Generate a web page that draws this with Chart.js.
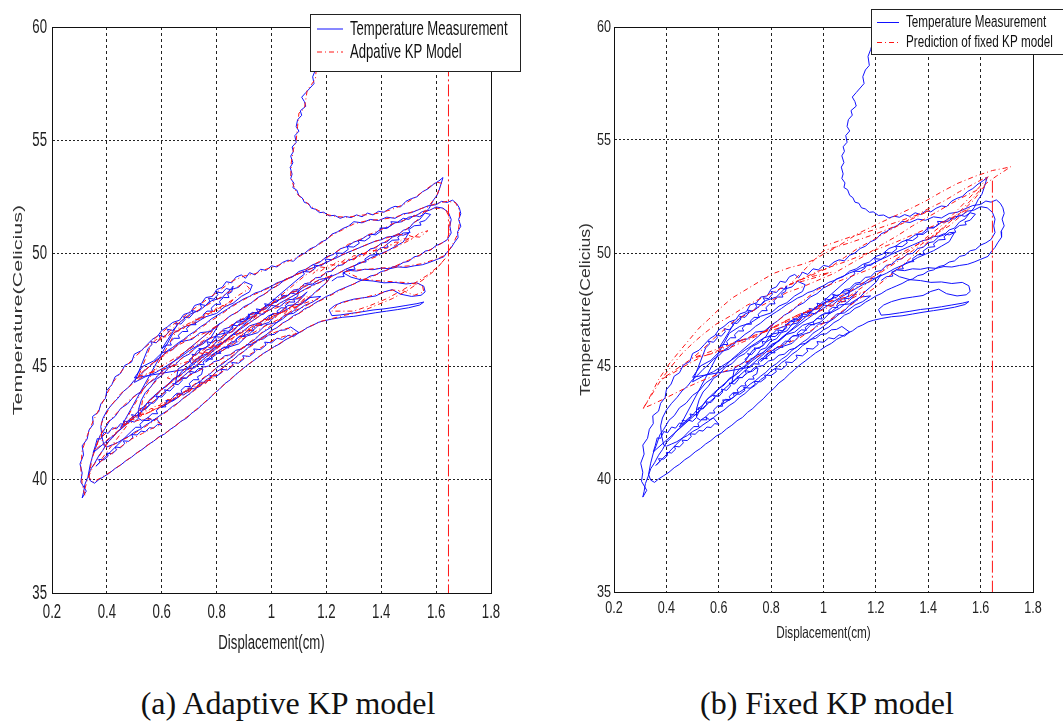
<!DOCTYPE html>
<html>
<head>
<meta charset="utf-8">
<title>Temperature vs displacement</title>
<script src="https://cdn.jsdelivr.net/npm/chart.js@4.4.1/dist/chart.umd.min.js"></script>
<style>
  body { margin: 0; background: #fff; }
  #page { position: relative; width: 1063px; height: 721px; overflow: hidden; background: #fff; }
  canvas { position: absolute; top: 0; }
  #chartA { left: 0; }
  #chartB { left: 530px; }
  .caption {
    position: absolute; top: 685px; line-height: 36px;
    font-family: 'Liberation Serif', 'Times New Roman', serif; font-size: 32px;
    color: #111; white-space: nowrap; transform: translateX(-50%);
  }
</style>
</head>
<body>
<div id="page">
  <canvas id="chartA" width="530" height="660"></canvas>
  <canvas id="chartB" width="533" height="660"></canvas>
  <div class="caption" style="left:288px">(a) Adaptive KP model</div>
  <div class="caption" style="left:827px">(b) Fixed KP model</div>
</div>
<script>
// Axis ticks
const xTickValues = [0.2, 0.4, 0.6, 0.8, 1.0, 1.2, 1.4, 1.6, 1.8];
const xTickLabels = ['0.2', '0.4', '0.6', '0.8', '1', '1.2', '1.4', '1.6', '1.8'];
const yTickValues = [35, 40, 45, 50, 55, 60];
const yTickLabels = ['35', '40', '45', '50', '55', '60'];

// Measured temperature vs displacement, [cm, degC]
const measured = [
  // cooling hook from the top
  [1.195,59.6],[1.185,59.2],[1.18,59.0],[1.17,58.7],[1.175,58.3],[1.16,58.1],[1.15,57.8],[1.155,57.5],[1.14,57.3],[1.125,57.1],
  [1.11,56.9],[1.12,56.7],[1.125,56.5],[1.105,56.3],[1.11,56.1],[1.095,55.9],[1.09,55.6],[1.1,55.4],[1.085,55.2],[1.09,54.9],
  [1.075,54.7],[1.08,54.5],[1.07,54.3],[1.078,54.0],[1.068,53.8],[1.075,53.5],[1.07,53.3],[1.082,53.1],[1.078,52.9],[1.092,52.8],
  [1.1,52.55],[1.112,52.45],[1.12,52.25],[1.135,52.2],[1.145,52.0],[1.16,51.95],[1.175,51.8],[1.19,51.82],[1.21,51.66],[1.23,51.68],
  [1.25,51.55],[1.27,51.63],[1.29,51.58],[1.31,51.7],[1.33,51.62],[1.35,51.78],[1.37,51.7],[1.39,51.86],[1.41,51.82],[1.43,51.98],
  [1.45,52.08],[1.47,52.05],[1.49,52.3],[1.51,52.42],[1.53,52.5],[1.55,52.72],[1.57,52.85],[1.59,53.05],[1.61,53.2],[1.625,53.35],
  // outer loop, falling branch
  [1.615,52.95],[1.605,52.6],[1.59,52.35],[1.575,52.0],[1.56,51.8],[1.54,51.5],[1.52,51.38],[1.5,51.1],[1.48,51.02],[1.46,50.8],
  [1.44,50.72],[1.42,50.5],[1.4,50.45],[1.38,50.25],[1.36,50.2],[1.34,49.98],[1.32,49.95],[1.3,49.75],[1.28,49.7],[1.26,49.5],
  [1.24,49.45],[1.22,49.22],[1.2,49.18],[1.18,48.95],[1.16,48.92],[1.14,48.7],[1.12,48.66],[1.1,48.42],[1.08,48.38],[1.06,48.15],
  [1.04,48.1],[1.02,47.85],[1.0,47.8],[0.98,47.55],[0.96,47.5],[0.94,47.22],[0.92,47.18],[0.9,46.9],[0.88,46.85],[0.86,46.55],
  [0.84,46.48],[0.82,46.2],[0.8,46.12],[0.78,45.8],[0.76,45.72],[0.74,45.4],[0.72,45.3],[0.7,45.0],[0.68,44.88],[0.66,44.58],
  [0.64,44.45],[0.62,44.15],[0.6,44.0],[0.58,43.72],[0.56,43.58],[0.54,43.28],[0.52,43.1],[0.5,42.82],[0.48,42.65],[0.46,42.35],
  [0.44,42.15],[0.42,41.85],[0.4,41.62],[0.385,41.3],[0.37,41.05],[0.355,40.72],[0.34,40.45],[0.33,40.1],[0.32,39.8],[0.315,39.45],[0.31,39.2],
  // outer loop, rising branch
  [0.325,39.5],[0.305,39.9],[0.31,40.3],[0.302,40.7],[0.315,41.1],[0.31,41.5],[0.328,41.8],[0.335,42.2],[0.35,42.45],[0.348,42.8],
  [0.37,43.0],[0.378,43.35],[0.395,43.6],[0.4,43.95],[0.418,44.2],[0.43,44.55],[0.45,44.7],[0.465,45.05],[0.49,45.2],[0.5,45.55],
  [0.525,45.7],[0.545,45.95],[0.565,46.2],[0.585,46.35],[0.6,46.6],[0.62,46.75],[0.64,46.95],[0.665,47.05],[0.68,47.3],[0.705,47.4],
  [0.72,47.7],[0.745,47.8],[0.76,48.05],[0.785,48.1],[0.8,48.4],[0.82,48.5],[0.835,48.75],[0.855,48.7],[0.87,48.95],[0.89,49.05],
  [0.905,48.9],[0.92,49.15],[0.94,49.05],[0.96,49.3],[0.98,49.25],[1.0,49.45],[1.02,49.4],[1.04,49.6],[1.06,49.7],[1.08,49.65],
  [1.1,49.9],[1.12,50.0],[1.14,50.2],[1.16,50.3],[1.18,50.5],[1.2,50.6],[1.22,50.85],[1.24,50.95],[1.26,51.1],[1.28,51.2],
  [1.3,51.4],[1.33,51.35],[1.36,51.5],[1.39,51.45],[1.42,51.6],[1.45,51.55],[1.48,51.75],[1.51,51.8],[1.54,51.95],[1.57,52.1],
  [1.6,52.15],[1.62,52.3],[1.64,52.25],[1.66,52.35],[1.675,52.2],[1.685,52.0],[1.69,51.75],[1.682,51.5],[1.69,51.2],[1.678,50.95],
  [1.68,50.7],[1.665,50.45],[1.655,50.25],[1.64,50.05],[1.628,49.85],
  // lower lobe and lower envelope
  [1.6,49.72],[1.575,49.6],[1.55,49.5],[1.52,49.45],[1.49,49.38],[1.46,49.4],[1.43,49.32],[1.4,49.35],[1.37,49.28],[1.34,49.3],
  [1.31,49.22],[1.28,49.25],[1.26,49.15],[1.29,48.95],[1.33,48.82],[1.37,48.78],[1.41,48.7],[1.45,48.72],[1.49,48.65],[1.53,48.7],
  [1.555,48.55],[1.56,48.3],[1.545,48.15],[1.51,48.1],[1.47,48.2],[1.44,48.4],[1.41,48.3],[1.38,48.12],[1.34,48.05],[1.3,47.98],
  [1.26,47.85],[1.23,47.7],[1.21,47.5],[1.22,47.25],[1.25,47.28],[1.29,47.35],[1.33,47.42],[1.37,47.5],[1.41,47.55],[1.45,47.62],
  [1.49,47.7],[1.53,47.78],[1.555,47.85],[1.54,47.72],[1.5,47.6],[1.46,47.52],[1.42,47.45],[1.38,47.38],[1.34,47.3],[1.3,47.22],
  [1.26,47.18],[1.22,47.1],[1.19,47.02],[1.17,46.95],[1.15,46.82],[1.13,46.72],[1.11,46.55],[1.09,46.45],[1.07,46.3],[1.05,46.18],
  [1.03,46.0],[1.01,45.88],[0.99,45.72],[0.97,45.58],[0.95,45.4],[0.93,45.22],[0.91,45.05],[0.89,44.85],[0.87,44.65],[0.85,44.42],
  [0.83,44.25],[0.81,44.0],[0.79,43.8],[0.77,43.55],[0.75,43.35],[0.73,43.12],[0.71,42.95],[0.69,42.72],[0.67,42.58],[0.65,42.38],
  [0.63,42.22],[0.61,42.02],[0.59,41.9],[0.57,41.7],[0.55,41.55],[0.53,41.35],[0.51,41.2],[0.49,41.0],[0.47,40.85],[0.45,40.65],
  [0.43,40.5],[0.41,40.3],[0.39,40.15],[0.37,40.0],[0.355,39.85],[0.34,39.95],[0.332,40.2],
  // second loop
  [0.34,40.7],[0.35,41.15],[0.362,41.5],[0.375,41.95],[0.39,42.2],[0.41,42.6],[0.43,42.8],[0.45,43.15],[0.475,43.35],[0.5,43.7],
  [0.525,43.9],[0.55,44.25],[0.575,44.45],[0.6,44.8],[0.625,45.0],[0.65,45.3],[0.675,45.55],[0.7,45.8],[0.725,46.05],[0.75,46.3],
  [0.775,46.55],[0.8,46.8],[0.825,47.0],[0.85,47.25],[0.875,47.4],[0.9,47.65],[0.925,47.8],[0.95,48.05],[0.975,48.2],[1.0,48.45],
  [1.025,48.6],[1.05,48.85],[1.075,48.95],[1.1,49.2],[1.125,49.3],[1.15,49.5],[1.175,49.6],[1.2,49.85],[1.225,49.95],[1.25,50.2],
  [1.275,50.3],[1.3,50.5],[1.325,50.6],[1.35,50.8],[1.375,50.85],[1.4,51.1],[1.425,51.15],[1.45,51.35],[1.475,51.4],[1.5,51.6],
  [1.525,51.65],[1.55,51.85],[1.575,51.9],[1.6,52.05],[1.625,52.0],[1.645,51.8],[1.655,51.5],[1.65,51.2],[1.655,50.9],[1.64,50.6],
  [1.62,50.45],[1.6,50.35],[1.58,50.15],[1.56,50.1],[1.54,49.9],[1.52,49.85],[1.5,49.65],[1.48,49.6],[1.46,49.45],[1.44,49.4],
  [1.42,49.25],[1.4,49.2],[1.38,49.05],[1.36,49.0],[1.34,48.85],[1.32,48.78],[1.3,48.65],[1.28,48.55],[1.26,48.45],[1.24,48.35],
  [1.22,48.2],[1.2,48.1],[1.18,47.95],[1.16,47.82],[1.14,47.65],[1.12,47.55],[1.1,47.35],[1.08,47.25],[1.06,47.05],[1.04,46.92],
  [1.02,46.72],[1.0,46.6],[0.98,46.4],[0.96,46.25],[0.94,46.05],[0.92,45.9],[0.9,45.68],[0.88,45.52],[0.86,45.3],[0.84,45.15],
  [0.82,44.92],[0.8,44.78],[0.78,44.55],[0.76,44.4],[0.74,44.15],[0.72,44.0],[0.7,43.78],[0.68,43.62],[0.66,43.4],[0.64,43.25],
  [0.62,43.05],[0.6,42.9],[0.58,42.72],[0.56,42.55],[0.54,42.4],[0.52,42.22],[0.5,42.1],[0.48,41.92],[0.46,41.8],[0.44,41.65],
  [0.42,41.55],[0.4,41.45],[0.39,41.5],[0.382,41.9],[0.378,42.35],[0.385,42.7],
  // third loop
  [0.4,43.05],[0.42,43.35],[0.44,43.6],[0.46,43.9],[0.48,44.1],[0.5,44.4],[0.52,44.6],[0.54,44.85],[0.56,45.05],[0.58,45.3],
  [0.6,45.45],[0.62,45.7],[0.64,45.85],[0.66,46.05],[0.68,46.2],[0.7,46.4],[0.72,46.55],[0.74,46.75],[0.76,46.9],[0.78,47.1],
  [0.8,47.25],[0.82,47.4],[0.84,47.55],[0.86,47.72],[0.88,47.85],[0.9,48.0],[0.92,48.1],[0.94,48.25],[0.96,48.32],[0.98,48.45],
  [1.0,48.55],[1.02,48.7],[1.04,48.78],[1.06,48.9],[1.08,49.0],[1.1,49.12],[1.12,49.2],[1.14,49.32],[1.16,49.4],[1.18,49.5],
  [1.2,49.6],[1.22,49.72],[1.24,49.82],[1.26,49.95],[1.28,50.05],[1.3,50.15],[1.32,50.25],[1.34,50.35],[1.36,50.45],[1.38,50.55],
  [1.4,50.6],[1.42,50.72],[1.44,50.75],[1.46,50.85],[1.48,50.8],[1.5,50.9],
  [1.48,50.5],[1.45,50.3],[1.42,50.1],[1.39,49.95],[1.36,49.8],[1.33,49.6],[1.3,49.45],[1.27,49.3],[1.24,49.1],[1.21,48.95],
  [1.18,48.75],[1.15,48.6],[1.12,48.4],[1.09,48.2],[1.06,48.0],[1.03,47.8],[1.0,47.55],[0.97,47.35],[0.94,47.1],[0.91,46.85],
  [0.88,46.6],[0.85,46.35],[0.82,46.05],[0.79,45.8],[0.76,45.5],[0.73,45.25],[0.7,44.95],[0.67,44.65],[0.64,44.4],[0.61,44.1],
  [0.58,43.8],[0.55,43.45],[0.53,43.1],[0.515,42.75],
  // fourth loop
  [0.515,43.1],[0.525,43.5],[0.54,43.85],[0.56,44.1],[0.58,44.45],[0.6,44.6],[0.625,44.95],[0.65,45.1],[0.675,45.4],[0.7,45.55],
  [0.725,45.85],[0.75,46.0],[0.775,46.25],[0.8,46.35],[0.825,46.65],[0.85,46.75],[0.875,47.0],[0.9,47.1],[0.925,47.35],[0.95,47.4],
  [0.975,47.65],[1.0,47.75],[1.025,47.95],[1.05,48.05],[1.075,48.3],[1.1,48.35],[1.125,48.6],[1.15,48.65],[1.175,48.85],[1.2,48.9],[1.22,49.05],
  [1.2,48.7],[1.18,48.5],[1.16,48.3],[1.14,48.05],[1.12,47.85],[1.1,47.7],[1.08,47.45],[1.06,47.3],[1.04,47.1],[1.02,46.95],
  [1.0,46.75],[0.98,46.6],[0.96,46.45],[0.94,46.2],[0.92,46.05],[0.9,45.85],[0.88,45.7],[0.86,45.45],[0.84,45.3],[0.82,45.1],
  [0.8,44.95],[0.78,44.72],[0.76,44.55],[0.74,44.35],[0.72,44.2],[0.7,44.0],[0.68,43.85],[0.66,43.65],[0.64,43.5],[0.62,43.35],[0.6,43.2],
  // lower middle drift
  [0.62,43.38],[0.615,43.5],[0.64,43.48],[0.66,43.65],[0.655,43.78],[0.68,43.75],[0.7,43.92],[0.695,44.05],[0.72,44.02],[0.74,44.2],
  [0.735,44.32],[0.76,44.3],[0.78,44.48],[0.775,44.6],[0.8,44.58],[0.82,44.75],[0.815,44.88],[0.84,44.85],[0.86,45.05],[0.855,45.18],
  [0.88,45.15],[0.9,45.35],[0.895,45.48],[0.92,45.45],[0.94,45.65],[0.935,45.78],[0.96,45.75],[0.98,45.95],[0.975,46.08],[1.0,46.05],
  [1.02,46.25],[1.04,46.2],[1.06,46.38],[1.08,46.32],[1.1,46.5],[1.07,46.75],[1.05,46.62],[1.03,46.6],[1.01,46.42],[0.99,46.4],
  [0.97,46.22],[0.95,46.18],[0.93,46.0],[0.91,45.95],[0.89,45.78],[0.87,45.72],[0.85,45.52],[0.83,45.48],[0.81,45.28],[0.79,45.22],
  [0.77,45.02],[0.75,44.98],[0.73,44.78],[0.71,44.7],[0.69,44.5],[0.67,44.45],[0.65,44.25],
  // dense middle
  [0.66,44.9],[0.7,45.2],[0.73,45.7],[0.77,45.9],[0.8,46.4],[0.84,46.5],[0.87,46.95],[0.9,47.0],[0.93,47.4],
  [0.97,47.3],[1.0,47.7],[1.03,47.65],[1.06,47.95],[1.1,48.0],[1.13,48.3],[1.1,47.9],[1.06,47.55],[1.02,47.3],[0.99,46.95],
  [0.95,46.8],[0.92,46.45],[0.88,46.3],[0.85,45.95],[0.82,45.8],[0.78,45.5],[0.76,45.2],[0.8,45.55],[0.84,45.85],[0.88,46.0],
  [0.91,46.35],[0.95,46.5],[0.98,46.85],[1.02,46.95],[1.05,47.3],[1.08,47.35],[1.12,47.7],[1.15,47.85],[1.18,48.1],[1.14,48.05],
  [1.1,47.75],[1.06,47.7],[1.03,47.4],[0.99,47.25],[0.96,46.95],[0.92,46.8],[0.89,46.5],[0.86,46.4],[0.83,46.1],[0.8,45.95],
  [0.77,45.6],[0.74,45.45],[0.71,45.1],[0.7,45.3],
  [0.715,45.45],[0.71,45.55],[0.725,45.5],[0.74,45.7],[0.735,45.8],[0.755,45.78],[0.77,45.95],[0.765,46.1],[0.78,46.05],[0.8,46.2],
  [0.795,46.32],[0.815,46.3],[0.83,46.45],[0.825,46.6],[0.845,46.55],[0.86,46.7],[0.855,46.85],[0.875,46.8],[0.89,46.95],[0.885,47.1],
  [0.905,47.05],[0.92,47.2],[0.915,47.32],[0.935,47.28],[0.95,47.42],[0.945,47.55],[0.965,47.5],[0.98,47.65],[0.975,47.78],[0.995,47.72],
  [1.01,47.85],[1.005,47.98],[1.025,47.92],[1.04,48.05],[1.035,48.18],[1.055,48.1],[1.07,48.25],[1.09,48.2],[1.1,48.35],
  [1.095,48.1],[1.08,48.0],[1.085,47.85],[1.065,47.85],[1.05,47.7],[1.055,47.58],[1.035,47.6],[1.02,47.45],[1.025,47.32],[1.005,47.35],
  [0.99,47.2],[0.995,47.08],[0.975,47.1],[0.96,46.95],[0.965,46.82],[0.945,46.85],[0.93,46.7],[0.935,46.58],[0.915,46.6],[0.9,46.45],
  [0.905,46.32],[0.885,46.35],[0.87,46.2],[0.875,46.08],[0.855,46.1],[0.84,45.95],[0.845,45.82],[0.825,45.85],[0.81,45.7],[0.815,45.58],
  [0.795,45.6],[0.78,45.45],[0.785,45.32],[0.765,45.35],[0.75,45.2],[0.755,45.08],[0.735,45.1],[0.72,44.95],
  [0.5,44.5],[0.53,45.0],[0.57,45.25],[0.6,45.6],[0.64,45.75],[0.67,46.1],[0.71,46.2],[0.74,46.5],[0.78,46.55],[0.81,46.9],
  [0.78,46.3],[0.74,46.0],[0.7,45.7],[0.66,45.35],[0.62,45.05],[0.58,44.75],[0.54,44.55],[0.5,44.3],
  // upper band curls
  [0.55,45.8],[0.565,45.98],[0.56,46.1],[0.58,46.05],[0.595,46.25],[0.59,46.38],[0.61,46.32],[0.625,46.52],[0.62,46.65],[0.64,46.6],
  [0.655,46.8],[0.65,46.92],[0.67,46.88],[0.685,47.08],[0.68,47.2],[0.7,47.15],[0.715,47.35],[0.71,47.48],[0.73,47.42],[0.745,47.62],
  [0.74,47.75],[0.76,47.7],[0.775,47.9],[0.77,48.02],[0.79,47.98],[0.805,48.18],[0.8,48.3],[0.82,48.25],[0.835,48.45],[0.85,48.4],[0.86,48.55],
  [0.855,48.3],[0.84,48.2],[0.845,48.05],[0.825,48.05],[0.81,47.88],[0.815,47.75],[0.795,47.75],[0.78,47.58],[0.785,47.45],[0.765,47.45],
  [0.75,47.28],[0.755,47.15],[0.735,47.15],[0.72,46.98],[0.725,46.85],[0.705,46.85],[0.69,46.68],[0.695,46.55],[0.675,46.55],[0.66,46.38],
  [0.665,46.25],[0.645,46.25],[0.63,46.08],[0.635,45.95],[0.615,45.95],[0.6,45.78],
  [0.66,46.9],[0.7,47.3],[0.74,47.5],[0.78,47.9],[0.82,48.05],[0.85,48.4],[0.88,48.5],[0.9,48.75],[0.93,48.6],[0.92,48.3],
  [0.89,48.1],[0.86,47.8],[0.83,47.65],[0.8,47.35],[0.76,47.2],[0.72,46.9],[0.68,46.75],[0.64,46.45],
  // lower band curls
  [0.45,42.3],[0.465,42.48],[0.46,42.6],[0.48,42.55],[0.495,42.75],[0.49,42.88],[0.51,42.82],[0.525,43.02],[0.52,43.15],[0.54,43.1],
  [0.555,43.3],[0.55,43.42],[0.57,43.38],[0.585,43.58],[0.58,43.7],[0.6,43.65],[0.615,43.85],[0.61,43.98],[0.63,43.92],[0.645,44.12],
  [0.64,44.25],[0.66,44.2],[0.675,44.4],[0.67,44.52],[0.69,44.48],[0.705,44.68],[0.7,44.8],[0.72,44.75],[0.735,44.92],[0.75,44.9],
  [0.745,44.65],[0.73,44.55],[0.735,44.42],[0.715,44.42],[0.7,44.25],[0.705,44.12],[0.685,44.12],[0.67,43.95],[0.675,43.82],[0.655,43.82],
  [0.64,43.65],[0.645,43.52],[0.625,43.52],[0.61,43.35],[0.615,43.22],[0.595,43.22],[0.58,43.05],[0.585,42.92],[0.565,42.92],[0.55,42.75],
  [0.555,42.62],[0.535,42.62],[0.52,42.45],[0.525,42.32],[0.505,42.32],[0.49,42.15],
  [0.36,40.6],[0.375,40.78],[0.37,40.9],[0.39,40.88],[0.405,41.05],[0.4,41.18],[0.42,41.15],[0.435,41.32],[0.43,41.45],[0.45,41.42],
  [0.465,41.6],[0.46,41.72],[0.48,41.7],[0.495,41.88],[0.49,42.0],[0.51,41.98],[0.525,42.15],[0.54,42.12],[0.555,42.3],[0.57,42.28],
  [0.585,42.45],[0.6,42.42],[0.58,42.7],[0.565,42.62],[0.55,42.75],[0.53,42.6],[0.515,42.72],[0.5,42.55],[0.48,42.62],[0.465,42.42],
  [0.45,42.48],[0.435,42.25],[0.42,42.3],[0.405,42.05],[0.39,42.1],[0.378,41.8],[0.365,41.82],[0.358,41.5],[0.35,41.2],
  // upper right curls
  [1.1,48.9],[1.12,49.08],[1.115,49.2],[1.14,49.18],[1.16,49.35],[1.155,49.48],[1.18,49.45],[1.2,49.62],[1.195,49.75],[1.22,49.72],
  [1.24,49.9],[1.235,50.02],[1.26,50.0],[1.28,50.18],[1.275,50.3],[1.3,50.28],[1.32,50.45],[1.315,50.58],[1.34,50.55],[1.36,50.72],
  [1.355,50.85],[1.38,50.82],[1.4,51.0],[1.395,51.12],[1.42,51.1],[1.44,51.28],[1.435,51.4],[1.46,51.38],[1.48,51.55],[1.5,51.5],
  [1.52,51.68],[1.54,51.62],[1.56,51.78],[1.58,51.72],
  [1.56,51.45],[1.54,51.38],[1.545,51.25],[1.52,51.22],[1.5,51.05],[1.505,50.92],[1.48,50.9],[1.46,50.72],[1.465,50.6],[1.44,50.58],
  [1.42,50.4],[1.425,50.28],[1.4,50.25],[1.38,50.08],[1.385,49.95],[1.36,49.92],[1.34,49.75],[1.345,49.62],[1.32,49.6],[1.3,49.42],
  [1.305,49.3],[1.28,49.28],[1.26,49.1],[1.265,48.98],[1.24,48.95],[1.22,48.78]
];

// Adaptive KP model output
const adaptiveKP = [
  [1.2,60.2],[1.18,58.9],[1.165,58.4],[1.16,57.7],[1.13,57.2],[1.12,56.4],[1.1,56.2],[1.095,55.6],[1.09,55.0],[1.08,54.6],
  [1.072,54.0],[1.07,53.4],[1.08,53.0],[1.095,52.6],[1.12,52.35],[1.14,52.1],[1.17,51.9],[1.2,51.72],[1.24,51.62],[1.28,51.6],
  [1.32,51.68],[1.36,51.72],[1.4,51.8],[1.44,51.95],[1.48,52.15],[1.52,52.45],[1.56,52.8],[1.6,53.15],[1.62,53.1],
  [1.6,52.5],[1.57,52.05],[1.53,51.45],[1.49,51.05],[1.45,50.78],[1.41,50.48],[1.37,50.22],[1.33,49.95],[1.29,49.72],[1.25,49.48],
  [1.21,49.2],[1.17,48.95],[1.13,48.68],[1.09,48.4],[1.05,48.12],[1.01,47.82],[0.97,47.52],[0.93,47.2],[0.89,46.88],[0.85,46.5],
  [0.81,46.18],[0.77,45.78],[0.73,45.35],[0.69,44.95],[0.65,44.52],[0.61,44.08],[0.57,43.66],[0.53,43.2],[0.49,42.75],[0.45,42.25],
  [0.41,41.75],[0.38,41.2],[0.35,40.6],[0.33,40.05],[0.32,39.6],[0.32,39.3],
  [0.31,39.8],[0.305,40.5],[0.31,41.3],[0.33,42.0],[0.35,42.6],[0.375,43.2],[0.4,43.8],[0.425,44.35],[0.46,44.9],[0.5,45.4],
  [0.54,45.85],[0.58,46.3],[0.62,46.7],[0.66,47.0],[0.7,47.4],[0.74,47.75],[0.78,48.1],[0.82,48.45],[0.86,48.8],[0.9,49.0],
  [0.94,49.1],[0.98,49.3],[1.02,49.45],[1.06,49.65],[1.1,49.85],[1.14,50.15],[1.18,50.45],[1.22,50.8],[1.26,51.05],[1.3,51.3],
  [1.35,51.45],[1.4,51.5],[1.45,51.6],[1.5,51.78],[1.55,52.0],[1.6,52.2],[1.64,52.3],[1.67,52.25],[1.685,51.9],[1.685,51.4],
  [1.68,50.9],[1.665,50.5],[1.645,50.1],[1.63,49.9],
  [1.6,49.75],[1.55,49.55],[1.5,49.45],[1.45,49.4],[1.4,49.35],[1.35,49.3],[1.3,49.25],[1.27,49.2],[1.32,48.9],[1.38,48.8],
  [1.44,48.75],[1.5,48.7],[1.55,48.6],[1.555,48.3],[1.52,48.15],[1.48,48.35],[1.44,48.38],[1.4,48.25],[1.34,48.05],[1.28,47.9],
  [1.24,47.75],[1.22,47.45],[1.3,47.45],[1.36,47.7],[1.42,48.0],[1.48,48.4],[1.53,48.75],[1.57,49.05],[1.61,49.45],[1.635,49.8],
  [1.6,49.3],[1.56,48.9],[1.5,48.4],[1.44,48.0],[1.38,47.7],[1.32,47.4],[1.26,47.25],[1.22,47.12],
  [1.18,47.0],[1.14,46.78],[1.1,46.5],[1.06,46.25],[1.02,45.95],[0.98,45.65],[0.94,45.32],[0.9,44.95],[0.86,44.55],[0.82,44.12],
  [0.78,43.68],[0.74,43.25],[0.7,42.85],[0.66,42.48],[0.62,42.12],[0.58,41.8],[0.54,41.45],[0.5,41.1],[0.46,40.75],[0.42,40.4],
  [0.38,40.1],[0.35,39.9],[0.335,40.1],
  [0.345,40.9],[0.37,41.8],[0.4,42.5],[0.44,43.0],[0.48,43.5],[0.52,43.85],[0.56,44.35],[0.6,44.75],[0.64,45.2],[0.68,45.6],
  [0.72,46.0],[0.76,46.4],[0.8,46.75],[0.84,47.15],[0.88,47.45],[0.92,47.75],[0.96,48.1],[1.0,48.4],[1.04,48.75],[1.08,49.0],
  [1.12,49.25],[1.16,49.55],[1.2,49.8],[1.24,50.1],[1.28,50.4],[1.32,50.6],[1.36,50.85],[1.4,51.05],[1.44,51.3],[1.48,51.45],
  [1.52,51.65],[1.56,51.85],[1.6,52.0],[1.635,51.95],[1.65,51.5],[1.65,51.0],[1.64,50.6],
  [1.6,50.3],[1.56,50.05],[1.52,49.8],[1.48,49.6],[1.44,49.38],[1.4,49.15],[1.36,48.95],[1.32,48.75],[1.28,48.55],[1.24,48.3],
  [1.2,48.05],[1.16,47.8],[1.12,47.5],[1.08,47.2],[1.04,46.9],[1.0,46.55],[0.96,46.2],[0.92,45.85],[0.88,45.5],[0.84,45.1],
  [0.8,44.75],[0.76,44.35],[0.72,43.95],[0.68,43.6],[0.64,43.2],[0.6,42.85],[0.56,42.5],[0.52,42.2],[0.48,41.9],[0.44,41.65],
  [0.4,41.4],[0.38,41.8],[0.38,42.5],
  [0.41,43.2],[0.45,43.8],[0.49,44.2],[0.53,44.75],[0.57,45.15],[0.61,45.55],[0.65,45.9],[0.69,46.25],[0.73,46.6],[0.77,46.95],
  [0.81,47.25],[0.85,47.6],[0.89,47.9],[0.93,48.15],[0.97,48.35],[1.01,48.6],[1.05,48.85],[1.09,49.05],[1.13,49.25],[1.17,49.45],
  [1.21,49.65],[1.25,49.9],[1.29,50.1],[1.33,50.3],[1.37,50.5],[1.41,50.65],[1.45,50.8],[1.49,50.85],[1.52,50.7],
  [1.49,50.5],[1.44,50.2],[1.39,49.9],[1.34,49.65],[1.29,49.4],[1.24,49.1],[1.19,48.8],[1.14,48.5],[1.09,48.2],[1.04,47.85],
  [0.99,47.5],[0.94,47.1],[0.89,46.7],[0.84,46.2],[0.79,45.75],[0.74,45.3],[0.69,44.8],[0.64,44.35],[0.59,43.9],[0.55,43.4],[0.52,42.8],
  [0.53,43.5],[0.56,44.1],[0.6,44.65],[0.65,45.15],[0.7,45.6],[0.75,46.05],[0.8,46.4],[0.85,46.8],[0.9,47.15],[0.95,47.45],
  [1.0,47.8],[1.05,48.1],[1.1,48.4],[1.15,48.7],[1.2,48.95],[1.22,49.0],
  [1.18,48.45],[1.14,48.1],[1.1,47.72],[1.06,47.35],[1.02,47.0],[0.98,46.65],[0.94,46.25],[0.9,45.9],[0.86,45.5],[0.82,45.15],
  [0.78,44.75],[0.74,44.4],[0.7,44.05],[0.66,43.7],[0.62,43.4],[0.58,43.15],[0.54,42.9],
  [0.61,43.3],[0.65,43.6],[0.69,43.9],[0.73,44.15],[0.77,44.45],[0.81,44.7],[0.85,45.0],[0.89,45.3],[0.93,45.6],[0.97,45.9],
  [1.01,46.2],[1.05,46.35],[1.09,46.45],[1.06,46.7],[1.02,46.55],[0.98,46.35],[0.94,46.1],[0.9,45.85],[0.86,45.6],[0.82,45.35],
  [0.78,45.1],[0.74,44.85],[0.7,44.6],[0.66,44.35],
  [0.62,44.5],[0.68,45.05],[0.72,45.5],[0.76,45.8],[0.8,46.2],[0.85,46.55],[0.89,46.9],[0.93,47.2],[0.98,47.45],[1.02,47.6],
  [1.07,47.9],[1.12,48.15],[1.08,47.7],[1.03,47.35],[0.98,47.0],[0.93,46.65],[0.88,46.2],[0.83,45.9],[0.78,45.45],[0.82,45.7],
  [0.87,46.05],[0.92,46.4],[0.97,46.75],[1.02,47.05],[1.07,47.4],[1.12,47.65],[1.17,48.0],[1.12,47.8],[1.07,47.55],[1.02,47.3],
  [0.97,47.05],[0.92,46.7],[0.87,46.35],[0.82,46.0],[0.77,45.6],[0.72,45.2],[0.71,45.4],
  [0.73,45.62],[0.75,45.58],[0.77,45.85],[0.79,45.82],[0.81,46.1],[0.83,46.05],[0.85,46.35],[0.87,46.3],[0.89,46.6],[0.91,46.55],
  [0.93,46.85],[0.95,46.8],[0.97,47.1],[0.99,47.05],[1.01,47.35],[1.03,47.3],[1.05,47.6],[1.07,47.55],[1.09,47.85],[1.11,47.8],
  [1.13,48.1],[1.11,47.9],[1.09,47.6],[1.07,47.68],[1.05,47.35],[1.03,47.42],[1.01,47.1],[0.99,47.18],[0.97,46.85],[0.95,46.92],
  [0.93,46.6],[0.91,46.68],[0.89,46.35],[0.87,46.42],[0.85,46.1],[0.83,46.18],[0.81,45.85],[0.79,45.92],[0.77,45.6],[0.75,45.68],[0.73,45.35],
  [0.51,44.55],[0.56,45.1],[0.61,45.5],[0.66,45.95],[0.71,46.25],[0.76,46.5],[0.8,46.8],[0.76,46.2],[0.71,45.85],[0.66,45.45],
  [0.61,45.1],[0.56,44.75],[0.51,44.4],
  [0.56,45.95],[0.58,46.2],[0.6,46.18],[0.62,46.45],[0.64,46.42],[0.66,46.7],[0.68,46.68],[0.7,46.95],[0.72,46.92],[0.74,47.2],
  [0.76,47.18],[0.78,47.45],[0.8,47.42],[0.82,47.7],[0.84,47.68],[0.86,47.95],[0.84,47.82],[0.82,47.55],[0.8,47.6],[0.78,47.3],
  [0.76,47.35],[0.74,47.05],[0.72,47.1],[0.7,46.8],[0.68,46.85],[0.66,46.55],[0.64,46.6],[0.62,46.3],[0.6,46.35],[0.58,46.05],
  [0.67,47.0],[0.72,47.4],[0.77,47.75],[0.82,48.1],[0.86,48.4],[0.9,48.7],[0.92,48.45],[0.88,48.15],[0.84,47.8],[0.79,47.45],
  [0.74,47.15],[0.69,46.85],[0.65,46.5],
  [0.46,42.45],[0.48,42.68],[0.5,42.65],[0.52,42.9],[0.54,42.88],[0.56,43.15],[0.58,43.12],[0.6,43.4],[0.62,43.38],[0.64,43.65],
  [0.66,43.62],[0.68,43.9],[0.7,43.88],[0.72,44.15],[0.74,44.12],[0.76,44.4],[0.78,44.38],[0.8,44.65],[0.78,44.55],[0.76,44.25],
  [0.74,44.3],[0.72,44.0],[0.7,44.05],[0.68,43.75],[0.66,43.8],[0.64,43.5],[0.62,43.55],[0.6,43.25],[0.58,43.3],[0.56,43.0],
  [0.54,43.05],[0.52,42.75],[0.5,42.8],[0.48,42.5],
  [0.37,40.75],[0.41,41.1],[0.45,41.45],[0.49,41.8],[0.53,42.05],[0.57,42.3],[0.6,42.45],[0.56,42.7],[0.52,42.65],[0.48,42.5],
  [0.44,42.35],[0.4,42.1],[0.37,41.75],[0.355,41.3],
  [1.12,49.0],[1.15,49.25],[1.18,49.22],[1.21,49.5],[1.24,49.48],[1.27,49.75],[1.3,49.72],[1.33,50.0],[1.36,49.98],[1.39,50.25],
  [1.42,50.22],[1.45,50.5],[1.48,50.48],[1.51,50.75],[1.54,50.72],[1.57,51.0],[1.54,50.9],[1.51,50.62],[1.48,50.65],[1.45,50.35],
  [1.42,50.4],[1.39,50.1],[1.36,50.15],[1.33,49.85],[1.3,49.9],[1.27,49.6],[1.24,49.65],[1.21,49.35],[1.18,49.4],[1.15,49.1]
];

// Fixed KP model prediction
const fixedKP = [
  [0.312,43.13],[0.34,43.7],[0.37,44.4],[0.41,45.08],[0.45,45.65],[0.49,46.2],[0.525,46.68],[0.56,47.05],[0.6,47.5],[0.65,48.0],
  [0.7,48.35],[0.75,48.7],[0.81,49.1],[0.87,49.35],[0.92,49.5],[0.96,49.68],[1.0,49.95],[1.04,50.2],[1.09,50.55],[1.13,50.85],
  [1.2,51.25],[1.26,51.57],[1.33,51.95],[1.39,52.3],[1.45,52.7],[1.51,53.07],[1.58,53.4],[1.645,53.65],[1.69,53.75],[1.715,53.82],
  [1.7,53.7],[1.66,53.4],[1.62,53.07],[1.56,52.3],[1.5,51.6],[1.45,51.0],[1.39,50.4],[1.33,49.75],[1.27,49.15],[1.2,48.5],
  [1.14,48.0],[1.08,47.5],[1.04,47.15],[0.97,46.7],[0.91,46.25],[0.85,45.95],[0.78,45.6],[0.72,45.25],[0.65,44.9],[0.59,44.6],
  [0.525,44.3],[0.46,43.95],[0.395,43.57],[0.35,43.32],[0.312,43.13],
  [0.38,44.4],[0.42,45.0],[0.46,45.55],[0.5,46.0],[0.54,46.4],[0.59,46.85],[0.65,47.25],[0.71,47.7],[0.78,48.1],[0.84,48.45],
  [0.9,48.75],[0.97,49.1],[1.03,49.4],[1.08,49.8],[1.13,50.2],[1.2,50.65],[1.26,51.05],[1.33,51.5],[1.39,51.9],[1.46,52.3],
  [1.52,52.72],[1.58,53.1],[1.63,53.4],[1.61,53.1],[1.57,52.6],[1.52,52.0],[1.46,51.3],[1.4,50.75],[1.34,50.2],[1.28,49.75],
  [1.21,49.1],[1.15,48.5],[1.1,48.1],[1.04,47.75],[0.97,47.5],[0.91,47.3],[0.85,46.95],[0.78,46.55],[0.72,46.25],[0.65,45.97],
  [0.59,45.65],[0.525,45.35],[0.47,45.0],[0.42,44.65],[0.38,44.4],
  [0.5,45.35],[0.54,45.75],[0.58,46.2],[0.62,46.6],[0.66,47.0],[0.71,47.3],[0.76,47.65],[0.81,47.95],[0.86,48.25],[0.92,48.5],
  [0.98,48.8],[1.04,49.1],[1.1,49.5],[1.16,49.9],[1.22,50.35],[1.28,50.75],[1.34,51.2],[1.4,51.6],[1.46,52.0],[1.52,52.4],
  [1.58,52.75],[1.615,52.95],[1.57,52.3],[1.52,51.75],[1.46,51.15],[1.4,50.6],[1.34,50.1],[1.28,49.6],[1.22,49.15],[1.16,48.75],
  [1.1,48.3],[1.04,47.95],[0.98,47.6],[0.92,47.3],[0.86,46.95],[0.8,46.65],[0.74,46.3],[0.68,46.0],[0.62,45.7],[0.56,45.5],[0.5,45.35],
  [0.77,46.5],[0.83,46.85],[0.89,47.2],[0.95,47.5],[1.01,47.8],[1.07,48.0],[1.12,48.15],[1.16,48.3],[1.11,48.0],[1.05,47.75],
  [0.99,47.45],[0.93,47.15],[0.87,46.85],[0.81,46.6],[0.77,46.5],
  [0.98,48.4],[1.08,48.85],[1.18,49.3],[1.28,49.9],[1.38,50.5],[1.48,51.2],[1.56,52.0],[1.48,51.5],[1.38,51.0],[1.28,50.5],
  [1.18,50.05],[1.08,49.6],[0.98,49.2],
  [0.87,48.6],[0.92,48.85],[0.97,49.0],[1.03,49.15],[0.98,48.95],[0.92,48.75],[0.87,48.6],
  [1.0,50.1],[1.1,50.45],[1.2,50.85],[1.3,51.3],[1.41,51.9],[1.3,51.45],[1.2,51.05],[1.1,50.7],[1.0,50.3]
];

// End-of-test vertical traces
const stopLineA = [[1.645, 61], [1.645, 34]];
const stopLineB = [[1.645, 53.2], [1.645, 34]];

const SANS = "'Liberation Sans', Arial, sans-serif";
const BLUE = '#1111ff';
const RED = '#ff1414';
const RED_DASH = [5, 3, 1, 3];

const toXY = pts => pts.map(p => ({ x: p[0], y: p[1] }));

// fillText squeezed horizontally about the anchor point
function squeezedText(ctx, text, x, y, sx) {
  ctx.save();
  ctx.translate(x, y);
  ctx.scale(sx, 1);
  ctx.fillText(text, 0, 0);
  ctx.restore();
}

// Solid box round the plot area
const frame = {
  id: 'frame',
  afterDatasetsDraw(chart) {
    const a = chart.chartArea, ctx = chart.ctx;
    const l = Math.round(a.left) + 0.5, t = Math.round(a.top) + 0.5;
    const r = Math.round(a.right) + 0.5, b = Math.round(a.bottom) + 0.5;
    ctx.save();
    ctx.strokeStyle = '#111';
    ctx.lineWidth = 1;
    ctx.strokeRect(l, t, r - l, b - t);
    ctx.restore();
  }
};

// Tick labels and axis titles in a narrow face, placed from the scales
const axisText = {
  id: 'axisText',
  afterDraw(chart, args, o) {
    const ctx = chart.ctx, a = chart.chartArea;
    const xs = chart.scales.x, ys = chart.scales.y;
    ctx.save();
    ctx.fillStyle = '#222';
    ctx.textBaseline = 'middle';
    ctx.font = o.tickSize + 'px ' + SANS;
    ctx.textAlign = 'center';
    xs.ticks.forEach((t, i) => squeezedText(ctx, xTickLabels[i], xs.getPixelForValue(t.value), a.bottom + o.xTickDy, o.tickSx));
    ctx.textAlign = 'right';
    ys.ticks.forEach((t, i) => squeezedText(ctx, yTickLabels[i], a.left - o.yTickDx, ys.getPixelForValue(t.value), o.tickSx));
    ctx.textAlign = 'center';
    ctx.font = o.xTitleSize + 'px ' + SANS;
    squeezedText(ctx, xs.options.title.text, (a.left + a.right) / 2, o.xTitleY, o.xTitleSx);
    ctx.fillStyle = '#333';
    ctx.font = o.yTitleSize + 'px ' + SANS;
    ctx.translate(o.yTitleX, (a.top + a.bottom) / 2);
    ctx.rotate(-Math.PI / 2);
    squeezedText(ctx, ys.options.title.text, 0, 0, o.yTitleSx);
    ctx.restore();
  }
};

// Boxed legend drawn on top, may hang over the frame
const boxLegend = {
  id: 'boxLegend',
  afterDraw(chart, args, o) {
    if (!o || !o.rows) return;
    const ctx = chart.ctx;
    ctx.save();
    ctx.fillStyle = '#fff';
    ctx.fillRect(o.x, o.y, o.w, o.h);
    ctx.strokeStyle = '#222';
    ctx.lineWidth = 1;
    ctx.strokeRect(o.x + 0.5, o.y + 0.5, o.w, o.h);
    o.rows.forEach((rowY, i) => {
      const ds = chart.data.datasets[i];
      ctx.strokeStyle = ds.borderColor;
      ctx.setLineDash(ds.borderDash || []);
      ctx.beginPath();
      ctx.moveTo(o.lineX0, rowY + 0.5);
      ctx.lineTo(o.lineX1, rowY + 0.5);
      ctx.stroke();
      ctx.setLineDash([]);
      ctx.fillStyle = '#111';
      ctx.font = o.fontSize + 'px ' + SANS;
      ctx.textBaseline = 'middle';
      ctx.textAlign = 'left';
      squeezedText(ctx, ds.label, o.textX, rowY + 1, o.sx);
    });
    ctx.restore();
  }
};

function buildPanel(canvasId, cfg) {
  return new Chart(document.getElementById(canvasId), {
    type: 'scatter',
    data: { datasets: cfg.datasets },
    options: {
      responsive: false,
      animation: false,
      devicePixelRatio: 1,
      events: [],
      layout: { padding: { top: cfg.area.top, right: cfg.width - cfg.area.right, left: 0, bottom: 0 } },
      elements: { point: { radius: 0 }, line: { borderWidth: 1, tension: 0 } },
      plugins: {
        legend: { display: false }, tooltip: { enabled: false },
        axisText: cfg.text, boxLegend: cfg.legend
      },
      scales: {
        x: {
          type: 'linear', min: 0.2, max: 1.8,
          afterBuildTicks: s => { s.ticks = xTickValues.map(v => ({ value: v })); },
          afterFit: s => { s.height = cfg.height - cfg.area.bottom; },
          ticks: { display: false },
          grid: { color: '#222', lineWidth: 1, drawTicks: false },
          border: { color: '#111', width: 1, dash: [3, 3] },
          title: { display: false, text: 'Displacement(cm)' }
        },
        y: {
          type: 'linear', min: 35, max: 60,
          afterBuildTicks: s => { s.ticks = yTickValues.map(v => ({ value: v })); },
          afterFit: s => { s.width = cfg.area.left; },
          ticks: { display: false },
          grid: { color: '#222', lineWidth: 1, drawTicks: false },
          border: { color: '#111', width: 1, dash: [2, 2] },
          title: { display: false, text: 'Temperature(Celicius)' }
        }
      }
    },
    plugins: [frame, axisText, boxLegend]
  });
}

// (a) adaptive model
buildPanel('chartA', {
  width: 530, height: 660,
  area: { left: 52, right: 491, top: 27, bottom: 593 },
  text: {
    tickSize: 20, tickSx: 0.66, xTickDy: 19.5, yTickDx: 5,
    xTitleSize: 20, xTitleSx: 0.66, xTitleY: 643,
    yTitleSize: 12.5, yTitleSx: 1.72, yTitleX: 19
  },
  legend: { x: 310, y: 14, w: 210, h: 57, rows: [28.5, 51.5], lineX0: 317, lineX1: 343, textX: 350, fontSize: 21, sx: 0.625 },
  datasets: [
    { label: 'Temperature Measurement', data: toXY(measured), showLine: true, borderColor: BLUE, borderWidth: 1, pointRadius: 0, order: 2 },
    { label: 'Adpative KP Model', data: toXY(adaptiveKP), showLine: true, borderColor: RED, borderDash: RED_DASH, borderWidth: 1, pointRadius: 0, order: 1 },
    { label: 'end', data: toXY(stopLineA), showLine: true, borderColor: RED, borderDash: [12, 3, 2, 3], borderWidth: 1, pointRadius: 0, order: 1 }
  ]
});

// (b) fixed model
buildPanel('chartB', {
  width: 533, height: 660,
  area: { left: 84, right: 503, top: 27, bottom: 592 },
  text: {
    tickSize: 17, tickSx: 0.74, xTickDy: 16.3, yTickDx: 3,
    xTitleSize: 16.5, xTitleSx: 0.71, xTitleY: 633,
    yTitleSize: 14.5, yTitleSx: 1.22, yTitleX: 56
  },
  legend: { x: 341, y: 9, w: 200, h: 45, rows: [22, 42], lineX0: 347, lineX1: 369, textX: 376, fontSize: 16, sx: 0.73 },
  datasets: [
    { label: 'Temperature Measurement', data: toXY(measured), showLine: true, borderColor: BLUE, borderWidth: 1, pointRadius: 0, order: 2 },
    { label: 'Prediction of fixed KP model', data: toXY(fixedKP), showLine: true, borderColor: RED, borderDash: RED_DASH, borderWidth: 1, pointRadius: 0, order: 1 },
    { label: 'end', data: toXY(stopLineB), showLine: true, borderColor: RED, borderDash: [12, 3, 2, 3], borderWidth: 1, pointRadius: 0, order: 1 }
  ]
});
</script>
</body>
</html>
